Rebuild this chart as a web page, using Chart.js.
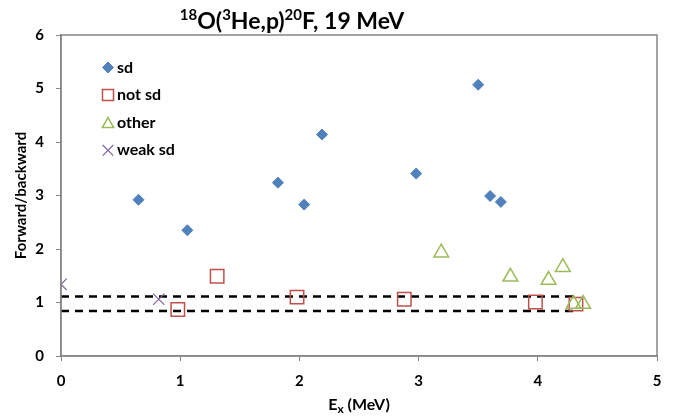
<!DOCTYPE html>
<html>
<head>
<meta charset="utf-8">
<script src="https://cdn.jsdelivr.net/npm/chart.js@4"></script>
<style>
  html, body { margin: 0; padding: 0; background: #fff; }
  #wrap { width: 681px; height: 419px; }
</style>
</head>
<body>
<div id="wrap"><canvas id="chart" width="681" height="419"></canvas></div>
<script>
// values
const sdX = [0.65, 1.06, 1.82, 2.04, 2.19, 2.98, 3.50, 3.60, 3.69];
const sdY = [2.92, 2.35, 3.24, 2.83, 4.14, 3.41, 5.07, 2.99, 2.88];
const notSdX = [0.98, 1.31, 1.98, 2.88, 3.98, 4.32];
const notSdY = [0.87, 1.49, 1.10, 1.06, 1.01, 0.97];
const otherX = [3.19, 3.77, 4.09, 4.21, 4.30, 4.38];
const otherY = [1.93, 1.48, 1.42, 1.66, 0.97, 0.97];
const weakX = [0.00, 0.82];
const weakY = [1.34, 1.06];
const dashLevels = [1.11, 0.84];
const dashRange = [0, 4.33];
const xTicks = [0, 1, 2, 3, 4, 5];
const yTicks = [0, 1, 2, 3, 4, 5, 6];

const FONT = 'Lato, "Open Sans", sans-serif';
const AXIS = '#868686';

const pts = (xs, ys) => xs.map((x, i) => ({ x, y: ys[i] }));

const series = [
  { label: 'sd', x: sdX, y: sdY, style: 'rectRot', radius: 5.5, fill: '#4F81BD', stroke: '#4F81BD', width: 1 },
  { label: 'not sd', x: notSdX, y: notSdY, style: 'rect', radius: 9.5, fill: 'rgba(0,0,0,0)', stroke: '#C0504D', width: 1.5 },
  { label: 'other', x: otherX, y: otherY, style: 'triangle', radius: 8.5, fill: 'rgba(0,0,0,0)', stroke: '#9BBB59', width: 1.5 },
  { label: 'weak sd', x: weakX, y: weakY, style: 'crossRot', radius: 8, fill: 'rgba(0,0,0,0)', stroke: '#8064A2', width: 1.2 },
];

const datasets = series.map((s, i) => ({
  type: 'scatter',
  label: s.label,
  data: pts(s.x, s.y),
  pointStyle: s.style,
  pointRadius: s.radius,
  pointBackgroundColor: s.fill,
  pointBorderColor: s.stroke,
  pointBorderWidth: s.width,
  order: 4 - i,
}));

dashLevels.forEach(level => {
  datasets.push({
    type: 'line',
    label: 'dash',
    data: dashRange.map(x => ({ x, y: level })),
    borderColor: '#000',
    borderWidth: 2.5,
    borderDash: [8, 6],
    pointRadius: 0,
    fill: false,
    order: 10,
  });
});

// draws title, axis titles with sub/superscripts, the box and the legend
const decor = {
  id: 'decor',
  afterDraw(chart) {
    const ctx = chart.ctx;
    const a = chart.chartArea;
    ctx.save();

    ctx.strokeStyle = AXIS;
    ctx.lineWidth = 1.5;
    ctx.strokeRect(a.left, a.top, a.right - a.left, a.bottom - a.top);

    ctx.fillStyle = '#000';
    ctx.textBaseline = 'alphabetic';
    const drawRuns = (runs, cx, baseline) => {
      let total = 0;
      runs.forEach(r => { ctx.font = 'bold ' + r.size + 'px ' + FONT; r.w = ctx.measureText(r.t).width; total += r.w; });
      let x = cx - total / 2;
      ctx.textAlign = 'left';
      runs.forEach(r => {
        ctx.font = 'bold ' + r.size + 'px ' + FONT;
        ctx.fillText(r.t, x, baseline + (r.dy || 0));
        x += r.w;
      });
    };

    drawRuns([
      { t: '18', size: 15, dy: -9 },
      { t: 'O(', size: 23 },
      { t: '3', size: 15, dy: -9 },
      { t: 'He,p)', size: 23 },
      { t: '20', size: 15, dy: -9 },
      { t: 'F, 19 MeV', size: 23 },
    ], 292, 29);

    drawRuns([
      { t: 'E', size: 16 },
      { t: 'x', size: 12, dy: 3 },
      { t: ' (MeV)', size: 16 },
    ], (a.left + a.right) / 2, 410);

    ctx.save();
    ctx.translate(21, (a.top + a.bottom) / 2);
    ctx.rotate(-Math.PI / 2);
    ctx.textAlign = 'center';
    ctx.textBaseline = 'middle';
    ctx.font = 'bold 15px ' + FONT;
    ctx.fillText('Forward/backward', 0, 0);
    ctx.restore();

    // legend inside the plot
    series.forEach((s, i) => {
      const y = 67.5 + i * 27.6;
      ctx.fillStyle = s.fill;
      ctx.strokeStyle = s.stroke;
      ctx.lineWidth = s.width;
      Chart.helpers.drawPoint(ctx, {
        pointStyle: s.style,
        radius: s.style === 'rectRot' ? 5.5 : (s.style === 'rect' ? 7.8 : (s.style === 'triangle' ? 6.6 : 7.5)),
        rotation: 0,
        borderWidth: s.width,
      }, 108, s.style === 'triangle' ? y + 1.5 : y);
      ctx.fillStyle = '#000';
      ctx.font = 'bold 16px ' + FONT;
      ctx.textAlign = 'left';
      ctx.textBaseline = 'middle';
      ctx.fillText(s.label, 117, y);
    });

    ctx.restore();
  }
};

new Chart(document.getElementById('chart'), {
  type: 'scatter',
  data: { datasets },
  options: {
    responsive: false,
    animation: false,
    layout: { padding: { top: 35, right: 24, left: 0, bottom: 0 } },
    plugins: {
      legend: { display: false },
      title: { display: false },
      tooltip: { enabled: false },
    },
    scales: {
      x: {
        type: 'linear',
        min: 0,
        max: 5,
        afterFit: scale => { scale.height = 63; },
        afterBuildTicks: scale => { scale.ticks = xTicks.map(v => ({ value: v })); },
        grid: { drawOnChartArea: false, tickLength: 5, color: AXIS },
        border: { display: true, color: AXIS, width: 1.5 },
        ticks: { color: '#000', padding: 11, font: { family: FONT, size: 15, weight: 'bold' } },
      },
      y: {
        type: 'linear',
        min: 0,
        max: 6,
        afterFit: scale => { scale.width = 61; },
        afterBuildTicks: scale => { scale.ticks = yTicks.map(v => ({ value: v })); },
        grid: { drawOnChartArea: false, tickLength: 5, color: AXIS },
        border: { display: true, color: AXIS, width: 1.5 },
        ticks: { color: '#000', padding: 12, font: { family: FONT, size: 15, weight: 'bold' } },
      },
    },
  },
  plugins: [decor],
});
</script>
</body>
</html>
